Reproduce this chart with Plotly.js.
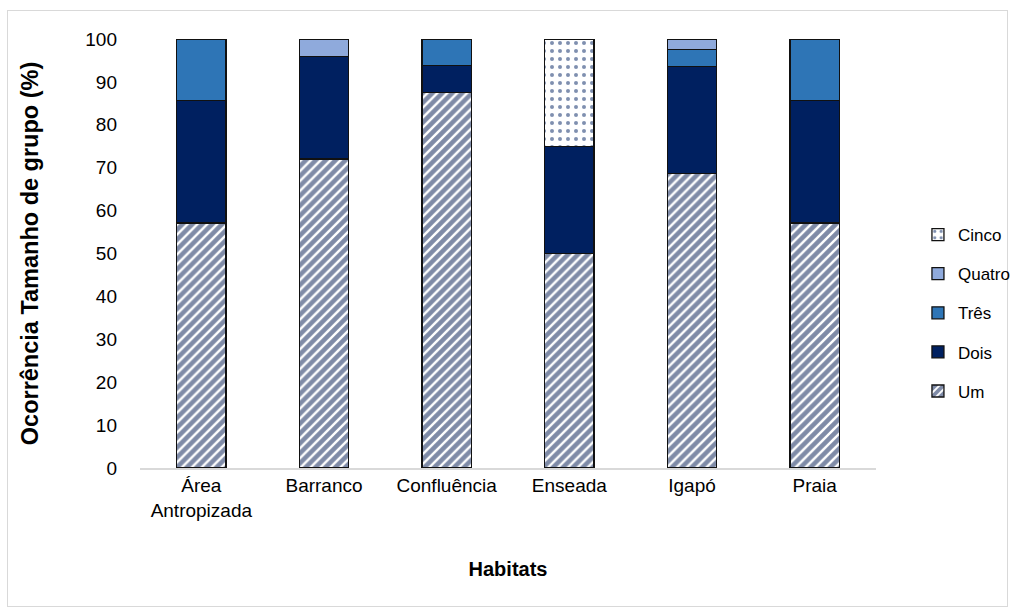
<!DOCTYPE html>
<html>
<head>
<meta charset="utf-8">
<script src="https://cdn.plot.ly/plotly-3.0.1.min.js"></script>
<style>
  html, body { margin: 0; padding: 0; background: #ffffff; }
  #frame { position: absolute; left: 7px; top: 10px; width: 1001px; height: 597px; border: 1px solid #d9d9d9; box-sizing: border-box; }
  #chart { position: absolute; left: 0; top: 0; width: 1017px; height: 612px; }
</style>
</head>
<body>
<div id="frame"></div>
<div id="chart"></div>
<script>
const habitats = ["Área<br>Antropizada", "Barranco", "Confluência", "Enseada", "Igapó", "Praia"];
const um     = [57.1, 72, 87.5, 50, 68.6, 57.1];
const dois   = [28.6, 24, 6.25, 25, 25.0, 28.6];
const tres   = [14.3, 0, 6.25, 0, 3.9, 14.3];
const quatro = [0, 4, 0, 0, 2.5, 0];
const cinco  = [0, 0, 0, 25, 0, 0];
const yTicks = [0, 10, 20, 30, 40, 50, 60, 70, 80, 90, 100];

const navy = "#002060";
const lineStyle = { color: "#111111", width: 1.3 };

const traces = [
  { name: "Um", y: um, legendrank: 5, marker: { color: "#ffffff", line: lineStyle,
      pattern: { shape: "/", fgcolor: "#001850", bgcolor: "#ffffff", size: 7, solidity: 0.66, fillmode: "overlay" } } },
  { name: "Dois", y: dois, legendrank: 4, marker: { color: navy, line: lineStyle } },
  { name: "Três", y: tres, legendrank: 3, marker: { color: "#2e75b6", line: lineStyle } },
  { name: "Quatro", y: quatro, legendrank: 2, marker: { color: "#8faadc", line: lineStyle } },
  { name: "Cinco", y: cinco, legendrank: 1, marker: { color: "#ffffff", line: lineStyle,
      pattern: { shape: ".", fgcolor: navy, bgcolor: "#ffffff", size: 8, solidity: 0.2, fillmode: "overlay" } } }
].map((t, i) => Object.assign({
  type: "bar",
  x: habitats,
  width: 0.4,
  legendgroup: "g" + i,
  hoverinfo: "name+y"
}, t));

const font = "Liberation Sans, Arial, sans-serif";

const layout = {
  width: 1017,
  height: 612,
  barmode: "stack",
  paper_bgcolor: "rgba(0,0,0,0)",
  plot_bgcolor: "rgba(0,0,0,0)",
  margin: { l: 140, r: 141, t: 39, b: 144, autoexpand: false },
  font: { family: font, size: 18, color: "#000000" },
  xaxis: {
    type: "category",
    showline: true,
    linecolor: "#d9d9d9",
    linewidth: 1.5,
    ticks: "",
    showgrid: false,
    tickfont: { family: font, size: 19, color: "#000000" },
    title: { text: "<b>Habitats</b>", font: { family: font, size: 20, color: "#000000" }, standoff: 42 }
  },
  yaxis: {
    range: [0, 100],
    tickvals: yTicks,
    ticktext: yTicks.map(String),
    showgrid: false,
    zeroline: false,
    showline: false,
    ticks: "",
    ticklabelstandoff: 22,
    tickfont: { family: font, size: 19, color: "#000000" },
    title: { text: "<b>Ocorrência Tamanho de grupo (%)</b>", font: { family: font, size: 23.5, color: "#000000" }, standoff: 40 }
  },
  legend: {
    traceorder: "grouped",
    tracegroupgap: 14,
    x: 1.057,
    xanchor: "left",
    y: 0.585,
    yanchor: "top",
    font: { family: font, size: 17, color: "#000000" },
    bgcolor: "rgba(0,0,0,0)",
    itemclick: false
  },
  showlegend: true
};

Plotly.newPlot("chart", traces, layout, { displayModeBar: false, staticPlot: true });
</script>
</body>
</html>
